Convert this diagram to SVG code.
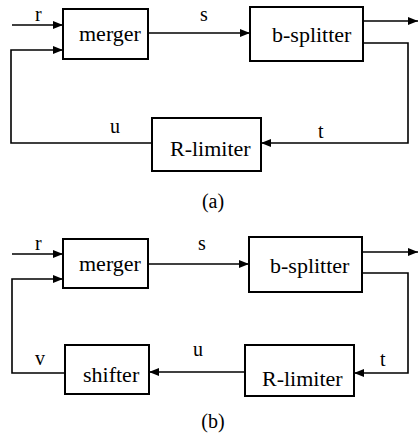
<svg xmlns="http://www.w3.org/2000/svg" width="419" height="439" viewBox="0 0 419 439">
<style>
.box{fill:#fff;stroke:#000;stroke-width:2}
.ln{fill:none;stroke:#000;stroke-width:1.6}
text{font-family:'Liberation Serif','Times New Roman',serif;fill:#000}
.t{font-size:22px}
.l{font-size:20px}
</style>
<defs>
<marker id="ah" viewBox="0 0 10 8" refX="10" refY="4" markerWidth="10" markerHeight="8" markerUnits="userSpaceOnUse" orient="auto">
<path d="M0,0 L10,4 L0,8 z" fill="#000"/>
</marker>
</defs>
<g id="connectors">
<path class="ln" d="M12,25 H63" marker-end="url(#ah)"/>
<path class="ln" d="M152,143 H11 V50 H63" marker-end="url(#ah)"/>
<path class="ln" d="M148,33 H250" marker-end="url(#ah)"/>
<path class="ln" d="M363,21 H418" marker-end="url(#ah)"/>
<path class="ln" d="M363,43 H408 V143 H261" marker-end="url(#ah)"/>
<path class="ln" d="M12,254 H63" marker-end="url(#ah)"/>
<path class="ln" d="M148,264 H249" marker-end="url(#ah)"/>
<path class="ln" d="M362,252 H418" marker-end="url(#ah)"/>
<path class="ln" d="M362,273 H408 V373 H354" marker-end="url(#ah)"/>
<path class="ln" d="M245,372 H149" marker-end="url(#ah)"/>
<path class="ln" d="M65,373 H12 V279 H63" marker-end="url(#ah)"/>
</g>
<g id="labels">
<text class="l" x="35" y="21">r</text>
<text class="l" x="200" y="21">s</text>
<text class="l" x="110" y="133">u</text>
<text class="l" x="318" y="138">t</text>
<text class="l" x="213" y="208" text-anchor="middle">(a)</text>
<text class="l" x="35" y="250">r</text>
<text class="l" x="198" y="250">s</text>
<text class="l" x="35" y="365">v</text>
<text class="l" x="193" y="356">u</text>
<text class="l" x="380" y="366">t</text>
<text class="l" x="213" y="428" text-anchor="middle">(b)</text>
</g>
<g id="merger-a"><rect class="box" x="63" y="9" width="85" height="50"/><text class="t" x="79" y="41">merger</text></g>
<g id="bsplitter-a"><rect class="box" x="250" y="7" width="113" height="54"/><text class="t" x="272" y="42">b-splitter</text></g>
<g id="rlimiter-a"><rect class="box" x="152" y="118" width="109" height="53"/><text class="t" x="170" y="156">R-limiter</text></g>
<g id="merger-b"><rect class="box" x="63" y="239" width="85" height="49"/><text class="t" x="79" y="271">merger</text></g>
<g id="bsplitter-b"><rect class="box" x="249" y="237" width="113" height="55"/><text class="t" x="270" y="273">b-splitter</text></g>
<g id="shifter-b"><rect class="box" x="65" y="345" width="84" height="49"/><text class="t" x="83" y="382">shifter</text></g>
<g id="rlimiter-b"><rect class="box" x="245" y="345" width="109" height="51"/><text class="t" x="262" y="386">R-limiter</text></g>
</svg>
